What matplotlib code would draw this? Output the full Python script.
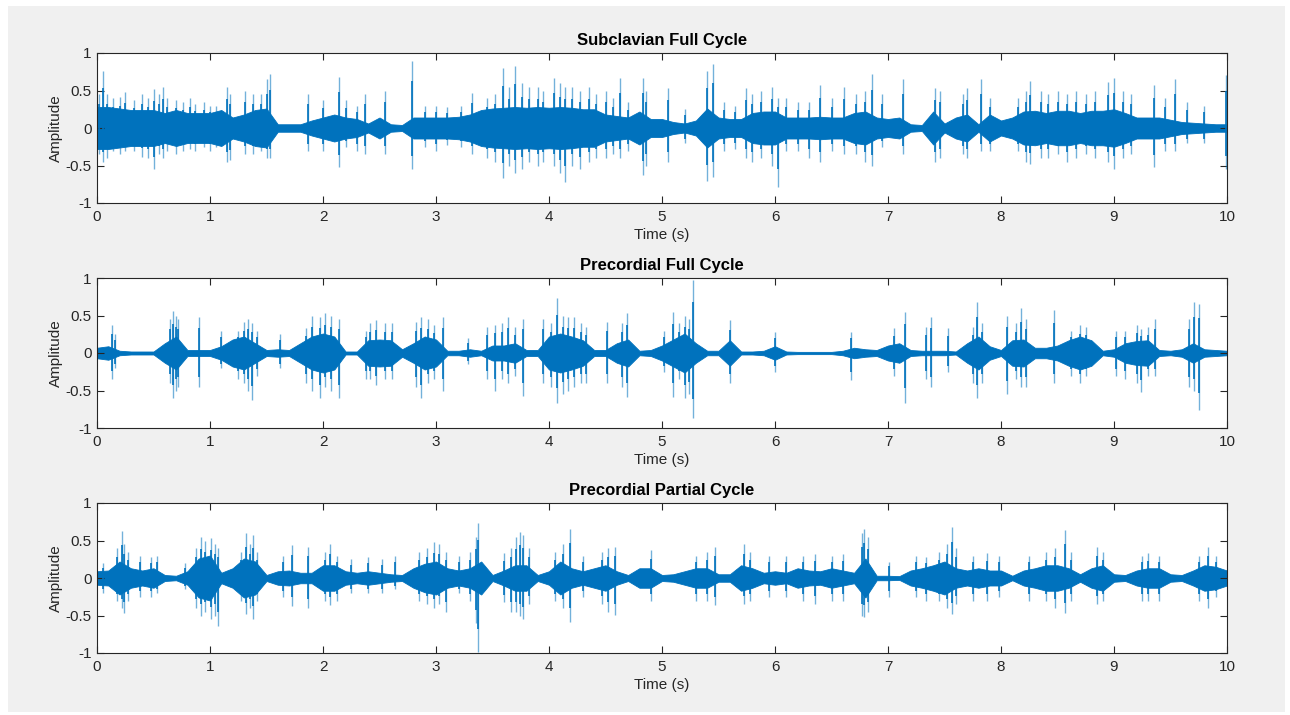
import numpy as np
import matplotlib
matplotlib.use("Agg")
from matplotlib import pyplot as plt
from matplotlib.patches import Rectangle

plt.rcParams['font.family'] = ['Liberation Sans', 'DejaVu Sans']
plt.rcParams['axes.unicode_minus'] = False

titles = ["Subclavian Full Cycle", "Precordial Full Cycle", "Precordial Partial Cycle"]
core_t = np.round(np.arange(0, 10.01, 0.1), 2)

# dense-body amplitude of each trace, read every 0.1 s
sub_core = [0.28, 0.28, 0.26, 0.24, 0.24, 0.24, 0.2, 0.24, 0.2, 0.2,
            0.2, 0.24, 0.14, 0.18, 0.24, 0.26, 0.05, 0.05, 0.05, 0.1,
            0.14, 0.18, 0.14, 0.12, 0.06, 0.14, 0.05, 0.04, 0.14, 0.14,
            0.14, 0.14, 0.15, 0.18, 0.24, 0.26, 0.27, 0.28, 0.27, 0.28,
            0.27, 0.28, 0.27, 0.25, 0.25, 0.18, 0.16, 0.14, 0.22, 0.12,
            0.12, 0.08, 0.06, 0.1, 0.26, 0.14, 0.12, 0.12, 0.2, 0.22,
            0.22, 0.14, 0.14, 0.14, 0.15, 0.14, 0.14, 0.2, 0.22, 0.14,
            0.12, 0.14, 0.05, 0.04, 0.22, 0.06, 0.14, 0.18, 0.05, 0.18,
            0.1, 0.14, 0.22, 0.23, 0.2, 0.23, 0.23, 0.2, 0.23, 0.23,
            0.25, 0.2, 0.14, 0.14, 0.14, 0.11, 0.08, 0.07, 0.06, 0.05, 0.05]
pre_full_core = [0.07, 0.09, 0.03, 0.02, 0.02, 0.02, 0.13, 0.22, 0.04, 0.04,
                 0.04, 0.09, 0.18, 0.22, 0.13, 0.04, 0.05, 0.04, 0.13, 0.22,
                 0.26, 0.22, 0.02, 0.02, 0.17, 0.18, 0.17, 0.05, 0.13, 0.22,
                 0.18, 0.03, 0.03, 0.05, 0.03, 0.1, 0.1, 0.13, 0.04, 0.04,
                 0.22, 0.26, 0.22, 0.17, 0.04, 0.04, 0.13, 0.18, 0.03, 0.04,
                 0.1, 0.18, 0.26, 0.13, 0.03, 0.03, 0.17, 0.02, 0.02, 0.03,
                 0.09, 0.02, 0.015, 0.015, 0.015, 0.015, 0.03, 0.07, 0.05, 0.04,
                 0.1, 0.13, 0.04, 0.03, 0.03, 0.03, 0.02, 0.13, 0.22, 0.09,
                 0.04, 0.17, 0.18, 0.07, 0.07, 0.1, 0.17, 0.22, 0.17, 0.03,
                 0.05, 0.13, 0.16, 0.17, 0.04, 0.03, 0.05, 0.13, 0.05, 0.04, 0.03]
pre_part_core = [0.09, 0.1, 0.22, 0.13, 0.1, 0.13, 0.04, 0.03, 0.09, 0.26,
                 0.3, 0.07, 0.13, 0.26, 0.22, 0.04, 0.09, 0.1, 0.07, 0.07,
                 0.17, 0.17, 0.09, 0.07, 0.09, 0.07, 0.05, 0.04, 0.13, 0.19,
                 0.22, 0.13, 0.1, 0.13, 0.22, 0.04, 0.1, 0.17, 0.17, 0.04,
                 0.09, 0.22, 0.13, 0.09, 0.13, 0.17, 0.09, 0.04, 0.13, 0.13,
                 0.04, 0.05, 0.09, 0.13, 0.13, 0.05, 0.05, 0.17, 0.13, 0.07,
                 0.09, 0.07, 0.13, 0.1, 0.09, 0.13, 0.1, 0.07, 0.26, 0.03,
                 0.03, 0.025, 0.1, 0.13, 0.17, 0.22, 0.13, 0.1, 0.13, 0.1,
                 0.1, 0.03, 0.1, 0.13, 0.17, 0.17, 0.13, 0.05, 0.13, 0.17,
                 0.05, 0.04, 0.1, 0.13, 0.13, 0.05, 0.04, 0.1, 0.17, 0.15, 0.1]

# individual spikes: time, top, bottom
sub_spikes = [(0.02, 0.45, -0.35), (0.05, 0.76, -0.45), (0.09, 0.45, -0.4), (0.14, 0.4, -0.3),
              (0.2, 0.42, -0.35), (0.25, 0.48, -0.3), (0.33, 0.38, -0.3), (0.4, 0.45, -0.38),
              (0.45, 0.4, -0.4), (0.5, 0.52, -0.55), (0.55, 0.45, -0.35), (0.58, 0.55, -0.4),
              (0.62, 0.4, -0.3), (0.7, 0.38, -0.35), (0.76, 0.35, -0.3), (0.82, 0.4, -0.28),
              (0.87, 0.32, -0.3), (0.95, 0.35, -0.25), (1.0, 0.3, -0.3), (1.05, 0.3, -0.25),
              (1.15, 0.55, -0.45), (1.18, 0.45, -0.42), (1.31, 0.5, -0.35), (1.38, 0.45, -0.35),
              (1.45, 0.45, -0.3), (1.5, 0.65, -0.4), (1.53, 0.72, -0.4), (1.87, 0.46, -0.3),
              (2.0, 0.38, -0.3), (2.14, 0.68, -0.52), (2.2, 0.38, -0.25), (2.3, 0.3, -0.3),
              (2.37, 0.45, -0.35), (2.55, 0.5, -0.35), (2.79, 0.9, -0.54), (2.9, 0.3, -0.25),
              (3.0, 0.3, -0.3), (3.1, 0.28, -0.22), (3.22, 0.3, -0.25), (3.32, 0.47, -0.35),
              (3.45, 0.4, -0.4), (3.52, 0.45, -0.45), (3.59, 0.8, -0.67), (3.65, 0.55, -0.5),
              (3.7, 0.83, -0.6), (3.76, 0.6, -0.55), (3.82, 0.55, -0.45), (3.9, 0.55, -0.5),
              (3.95, 0.5, -0.45), (4.04, 0.67, -0.5), (4.1, 0.6, -0.6), (4.14, 0.55, -0.72),
              (4.2, 0.55, -0.5), (4.27, 0.5, -0.55), (4.35, 0.55, -0.45), (4.42, 0.45, -0.4),
              (4.5, 0.5, -0.4), (4.57, 0.4, -0.35), (4.63, 0.67, -0.4), (4.7, 0.35, -0.3),
              (4.83, 0.67, -0.63), (4.86, 0.5, -0.5), (5.05, 0.54, -0.45), (5.2, 0.25, -0.2),
              (5.4, 0.76, -0.7), (5.45, 0.86, -0.65), (5.55, 0.35, -0.3), (5.65, 0.3, -0.28),
              (5.74, 0.54, -0.4), (5.8, 0.45, -0.45), (5.88, 0.5, -0.4), (5.97, 0.55, -0.5),
              (6.03, 0.4, -0.78), (6.1, 0.4, -0.3), (6.2, 0.35, -0.3), (6.3, 0.35, -0.4),
              (6.4, 0.58, -0.45), (6.5, 0.4, -0.3), (6.61, 0.55, -0.35), (6.72, 0.45, -0.35),
              (6.8, 0.5, -0.45), (6.86, 0.72, -0.51), (6.95, 0.45, -0.25), (7.13, 0.65, -0.35),
              (7.42, 0.54, -0.45), (7.46, 0.5, -0.4), (7.66, 0.45, -0.35), (7.7, 0.54, -0.4),
              (7.82, 0.65, -0.3), (7.9, 0.4, -0.3), (8.15, 0.4, -0.3), (8.22, 0.5, -0.45),
              (8.26, 0.63, -0.48), (8.35, 0.5, -0.4), (8.42, 0.45, -0.4), (8.5, 0.5, -0.35),
              (8.58, 0.45, -0.45), (8.66, 0.5, -0.4), (8.75, 0.45, -0.35), (8.83, 0.5, -0.4),
              (8.95, 0.62, -0.45), (9.0, 0.67, -0.54), (9.08, 0.5, -0.4), (9.15, 0.45, -0.35),
              (9.35, 0.58, -0.52), (9.45, 0.4, -0.3), (9.54, 0.65, -0.3), (9.65, 0.35, -0.2),
              (9.8, 0.3, -0.2), (9.99, 0.71, -0.54)]
pre_full_spikes = [(0.13, 0.37, -0.34), (0.16, 0.25, -0.2), (0.65, 0.45, -0.4), (0.67, 0.56, -0.6),
                   (0.7, 0.5, -0.5), (0.72, 0.45, -0.45), (0.9, 0.48, -0.45), (1.1, 0.3, -0.2),
                   (1.25, 0.3, -0.35), (1.3, 0.42, -0.4), (1.34, 0.46, -0.5), (1.37, 0.4, -0.63),
                   (1.42, 0.3, -0.3), (1.62, 0.25, -0.2), (1.85, 0.33, -0.4), (1.9, 0.5, -0.5),
                   (1.97, 0.48, -0.6), (2.02, 0.53, -0.45), (2.07, 0.5, -0.5), (2.14, 0.45, -0.6),
                   (2.38, 0.3, -0.35), (2.42, 0.4, -0.35), (2.47, 0.44, -0.43), (2.55, 0.4, -0.35),
                   (2.61, 0.4, -0.35), (2.82, 0.42, -0.45), (2.87, 0.48, -0.6), (2.93, 0.45, -0.4),
                   (2.98, 0.38, -0.35), (3.06, 0.48, -0.5), (3.28, 0.2, -0.15), (3.45, 0.35, -0.35),
                   (3.52, 0.38, -0.5), (3.58, 0.4, -0.35), (3.64, 0.48, -0.4), (3.7, 0.35, -0.3),
                   (3.77, 0.45, -0.57), (3.95, 0.45, -0.4), (4.02, 0.4, -0.45), (4.07, 0.73, -0.67),
                   (4.12, 0.5, -0.55), (4.17, 0.48, -0.5), (4.22, 0.48, -0.45), (4.28, 0.4, -0.4),
                   (4.33, 0.35, -0.4), (4.51, 0.42, -0.4), (4.65, 0.4, -0.45), (4.69, 0.53, -0.58),
                   (5.02, 0.3, -0.25), (5.1, 0.55, -0.58), (5.15, 0.4, -0.35), (5.2, 0.5, -0.6),
                   (5.24, 0.45, -0.55), (5.27, 0.97, -0.87), (5.6, 0.44, -0.4), (6.0, 0.28, -0.25),
                   (6.67, 0.28, -0.36), (7.05, 0.33, -0.3), (7.15, 0.55, -0.67), (7.34, 0.35, -0.35),
                   (7.38, 0.48, -0.45), (7.53, 0.33, -0.25), (7.75, 0.35, -0.4), (7.79, 0.68, -0.6),
                   (7.83, 0.4, -0.4), (8.05, 0.5, -0.54), (8.13, 0.4, -0.35), (8.18, 0.6, -0.45),
                   (8.22, 0.45, -0.45), (8.47, 0.57, -0.4), (8.62, 0.3, -0.3), (8.7, 0.37, -0.4),
                   (8.75, 0.35, -0.3), (9.02, 0.3, -0.3), (9.1, 0.3, -0.35), (9.2, 0.38, -0.4),
                   (9.24, 0.32, -0.52), (9.3, 0.35, -0.3), (9.36, 0.46, -0.3), (9.66, 0.46, -0.45),
                   (9.71, 0.68, -0.5), (9.75, 0.66, -0.76)]
pre_part_spikes = [(0.05, 0.2, -0.2), (0.18, 0.4, -0.3), (0.22, 0.63, -0.4), (0.24, 0.45, -0.46),
                   (0.27, 0.35, -0.3), (0.38, 0.3, -0.25), (0.48, 0.28, -0.25), (0.53, 0.3, -0.2),
                   (0.78, 0.2, -0.15), (0.88, 0.4, -0.4), (0.92, 0.55, -0.5), (0.96, 0.5, -0.45),
                   (1.01, 0.53, -0.55), (1.04, 0.45, -0.5), (1.07, 0.4, -0.64), (1.27, 0.35, -0.3),
                   (1.32, 0.6, -0.48), (1.35, 0.45, -0.4), (1.38, 0.58, -0.54), (1.42, 0.35, -0.3),
                   (1.65, 0.3, -0.25), (1.73, 0.44, -0.37), (1.87, 0.42, -0.4), (2.02, 0.35, -0.3),
                   (2.06, 0.46, -0.36), (2.12, 0.3, -0.3), (2.25, 0.25, -0.2), (2.4, 0.28, -0.2),
                   (2.52, 0.25, -0.2), (2.64, 0.3, -0.15), (2.85, 0.35, -0.3), (2.92, 0.4, -0.35),
                   (2.98, 0.48, -0.4), (3.03, 0.46, -0.35), (3.09, 0.35, -0.45), (3.2, 0.3, -0.2),
                   (3.3, 0.35, -0.3), (3.35, 0.55, -0.6), (3.37, 0.73, -0.98), (3.6, 0.33, -0.32),
                   (3.66, 0.4, -0.45), (3.71, 0.55, -0.45), (3.74, 0.62, -0.5), (3.77, 0.57, -0.55),
                   (3.82, 0.4, -0.35), (4.05, 0.35, -0.3), (4.12, 0.45, -0.4), (4.19, 0.66, -0.58),
                   (4.3, 0.3, -0.25), (4.47, 0.35, -0.35), (4.52, 0.4, -0.45), (4.58, 0.42, -0.49),
                   (4.9, 0.37, -0.3), (5.3, 0.3, -0.3), (5.4, 0.35, -0.3), (5.47, 0.42, -0.36),
                   (5.73, 0.45, -0.35), (5.78, 0.35, -0.3), (5.95, 0.3, -0.25), (6.1, 0.3, -0.25),
                   (6.25, 0.3, -0.3), (6.35, 0.32, -0.35), (6.5, 0.3, -0.3), (6.6, 0.32, -0.3),
                   (6.77, 0.6, -0.5), (6.79, 0.66, -0.52), (6.82, 0.55, -0.45), (7.01, 0.22, -0.25),
                   (7.25, 0.3, -0.25), (7.34, 0.28, -0.3), (7.45, 0.35, -0.3), (7.52, 0.45, -0.4),
                   (7.57, 0.68, -0.48), (7.6, 0.4, -0.35), (7.75, 0.3, -0.3), (7.88, 0.33, -0.3),
                   (7.98, 0.3, -0.25), (8.25, 0.3, -0.3), (8.4, 0.35, -0.3), (8.48, 0.4, -0.4),
                   (8.57, 0.64, -0.47), (8.62, 0.35, -0.3), (8.85, 0.42, -0.34), (8.9, 0.35, -0.3),
                   (9.25, 0.3, -0.3), (9.3, 0.33, -0.3), (9.4, 0.3, -0.3), (9.75, 0.3, -0.3),
                   (9.83, 0.42, -0.4), (9.9, 0.3, -0.25)]

cores = [sub_core, pre_full_core, pre_part_core]
spikes = [sub_spikes, pre_full_spikes, pre_part_spikes]
xticks = list(range(0, 11))
yticks = [-1, -0.5, 0, 0.5, 1]
ytick_labels = ["-1", "-0.5", "0", "0.5", "1"]
blue = "#0072BD"

fig = plt.figure(figsize=(12.9, 7.15), dpi=100, facecolor="white")
fig.patches.append(Rectangle((8 / 1290, 3 / 715), 1277 / 1290, 706 / 715,
                             transform=fig.transFigure, facecolor="#f0f0f0",
                             edgecolor="none", zorder=-1))

bottoms = [1 - 203 / 715, 1 - 428 / 715, 1 - 653 / 715]
for i in range(3):
    ax = fig.add_axes([97 / 1290, bottoms[i], 1130 / 1290, 150 / 715])
    c = np.array(cores[i])
    ax.fill_between(core_t, -c, c, color=blue, linewidth=0.6, edgecolor=blue)
    s = np.array(spikes[i])
    ax.vlines(s[:, 0], s[:, 2], s[:, 1], color=blue, linewidth=1.0, alpha=0.55)
    ax.vlines(s[:, 0], s[:, 2] * 0.7, s[:, 1] * 0.7, color=blue, linewidth=1.2)
    ax.set_xlim(0, 10)
    ax.set_ylim(-1, 1)
    ax.set_xticks(xticks)
    ax.set_yticks(yticks)
    ax.set_yticklabels(ytick_labels)
    ax.tick_params(direction="in", top=True, right=True, labelsize=11,
                   length=5, width=0.8, color="#262626", labelcolor="#262626")
    ax.tick_params(axis="x", pad=5)
    ax.tick_params(axis="y", pad=4)
    for sp in ax.spines.values():
        sp.set_color("#262626")
        sp.set_linewidth(0.8)
    ax.set_title(titles[i], fontsize=12, fontweight="bold", color="black", pad=6)
    ax.set_xlabel("Time (s)", fontsize=11, color="#262626", labelpad=3)
    ax.set_ylabel("Amplitude", fontsize=11, color="#262626", labelpad=2)

fig.savefig("out.png", dpi=100, facecolor="white")
